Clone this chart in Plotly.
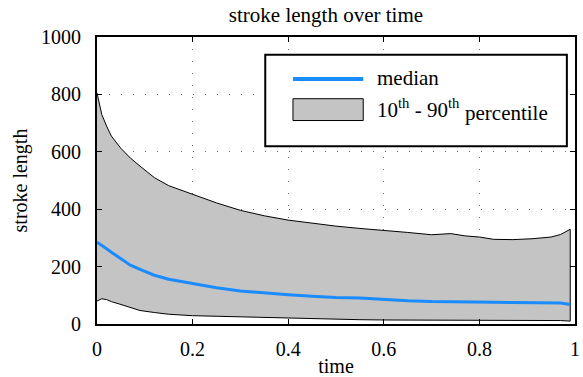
import plotly.graph_objects as go

# ---- data ----
time = [0, 0.01, 0.02, 0.03, 0.05, 0.07, 0.09, 0.12, 0.15, 0.2, 0.25, 0.3, 0.35,
        0.4, 0.45, 0.5, 0.55, 0.6, 0.65, 0.7, 0.74, 0.77, 0.8, 0.83, 0.87, 0.91,
        0.95, 0.97, 0.99]
p90 = [805, 730, 690, 655, 612, 578, 550, 510, 482, 452, 422, 396, 377,
       362, 351, 341, 333, 327, 319, 311, 315, 307, 303, 295, 294, 297,
       303, 312, 330]
p10 = [80, 88, 85, 78, 68, 58, 47, 40, 34, 29, 27, 24, 21,
       20, 19, 17, 15, 14, 14, 13, 13, 13, 13, 12, 12, 12,
       12, 12, 10]
median = [285, 275, 262, 250, 226, 205, 190, 170, 156, 140, 126, 115, 108,
          102, 97, 92, 91, 85, 81, 78, 78, 77, 77, 76, 75, 75,
          75, 73, 68]

x_ticks = [0, 0.2, 0.4, 0.6, 0.8, 1]
x_tick_labels = ["0", "0.2", "0.4", "0.6", "0.8", "1"]
y_ticks = [0, 200, 400, 600, 800, 1000]

FONT = "Liberation Serif"
BLUE = "#1a8cff"
GRAY = "#c4c4c4"

fig = go.Figure()
fig.add_trace(go.Scatter(x=time, y=p10, mode="lines",
                         line=dict(color="black", width=1), showlegend=False))
fig.add_trace(go.Scatter(x=time, y=p90, mode="lines", fill="tonexty",
                         fillcolor=GRAY, line=dict(color="black", width=1),
                         showlegend=False))
# closing edge of the band at the last sample
fig.add_trace(go.Scatter(x=[time[-1], time[-1]], y=[p10[-1], p90[-1]], mode="lines",
                         line=dict(color="black", width=1), showlegend=False))
fig.add_trace(go.Scatter(x=time, y=median, mode="lines",
                         line=dict(color=BLUE, width=3), showlegend=False))

axis_common = dict(
    showline=True, linecolor="black", linewidth=2, mirror="ticks",
    ticks="inside", ticklen=5, tickwidth=1, tickcolor="black",
    showgrid=True, gridcolor="#666666", gridwidth=1, griddash="1px,11px",
    zeroline=False, tickfont=dict(family=FONT, size=20, color="black"),
)

fig.update_xaxes(range=[0, 1], tickvals=x_ticks, ticktext=x_tick_labels,
                 ticklabelstandoff=6,
                 title=dict(text="time", font=dict(family=FONT, size=20, color="black"),
                            standoff=0),
                 **axis_common)
fig.update_yaxes(range=[0, 1000], tickvals=y_ticks,
                 ticklabelstandoff=10,
                 title=dict(text="stroke length", font=dict(family=FONT, size=20, color="black"),
                            standoff=8),
                 **axis_common)

# ---- legend drawn as shapes / text ----
fig.add_shape(type="rect", xref="paper", yref="paper", x0=0.352, x1=0.983, y0=0.619, y1=0.938,
              line=dict(color="black", width=2), fillcolor="white", layer="above")
fig.add_shape(type="line", xref="paper", yref="paper", x0=0.410, x1=0.557, y0=0.854, y1=0.854,
              line=dict(color=BLUE, width=4), layer="above")
fig.add_shape(type="rect", xref="paper", yref="paper", x0=0.410, x1=0.557, y0=0.709, y1=0.785,
              line=dict(color="black", width=1), fillcolor=GRAY, layer="above")
fig.add_annotation(xref="paper", yref="paper", x=0.582, y=0.858, xanchor="left", yanchor="middle",
                   text="median", showarrow=False,
                   font=dict(family=FONT, size=21, color="black"))
fig.add_annotation(xref="paper", yref="paper", x=0.582, y=0.75, xanchor="left", yanchor="middle",
                   text="10<sup>th</sup> - 90<sup>th</sup>", showarrow=False,
                   font=dict(family=FONT, size=21, color="black"))
fig.add_annotation(xref="paper", yref="paper", x=0.766, y=0.736, xanchor="left", yanchor="middle",
                   text="percentile", showarrow=False,
                   font=dict(family=FONT, size=21, color="black"))

fig.update_layout(
    width=583, height=377,
    margin=dict(l=97, r=3, t=37, b=51),
    paper_bgcolor="white", plot_bgcolor="white",
    title=dict(text="stroke length over time", x=0.479, xref="paper", xanchor="center",
               y=1 - 15 / 377, yref="container", yanchor="middle",
               font=dict(family=FONT, size=21, color="black")),
    showlegend=False,
)

fig.write_html("out.html", config={"displayModeBar": False},
               post_script="document.body.style.margin='0';")
